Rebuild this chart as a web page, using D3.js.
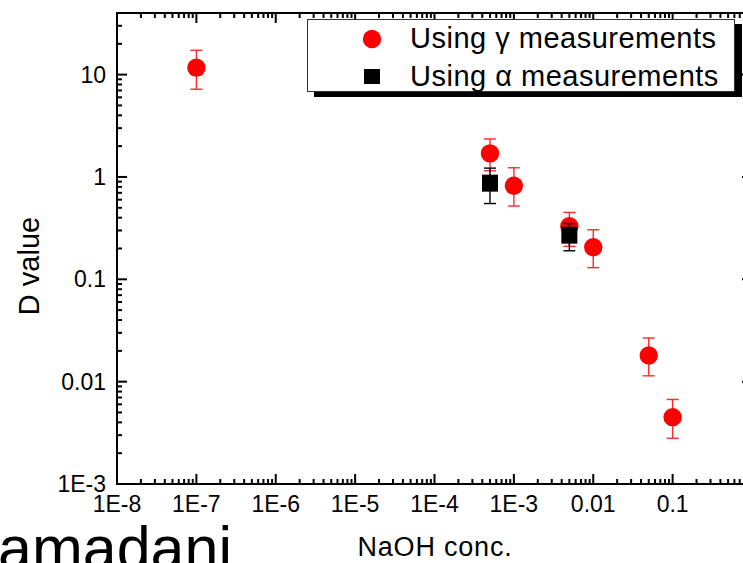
<!DOCTYPE html>
<html>
<head>
<style>
  body { margin: 0; background: #fff; }
  text { font-family: "Liberation Sans", Arial, sans-serif; }
</style>
</head>
<body>
<div id="viz"></div>
<script src="https://d3js.org/d3.v7.min.js"></script>
<script>
  // NaOH conc. vs D value
  const gammaX  = [1e-7, 5e-4, 1e-3, 5e-3, 0.01, 0.05, 0.1];
  const gammaY  = [11.7, 1.7, 0.82, 0.33, 0.206, 0.018, 0.0045];
  const gammaLo = [7.2, 1.15, 0.52, 0.21, 0.13, 0.0114, 0.0028];
  const gammaHi = [17.3, 2.35, 1.23, 0.45, 0.305, 0.0267, 0.0067];

  const alphaX  = [5e-4, 5e-3];
  const alphaY  = [0.87, 0.27];
  const alphaLo = [0.55, 0.19];
  const alphaHi = [1.22, 0.35];

  const xTicks = [1e-8, 1e-7, 1e-6, 1e-5, 1e-4, 1e-3, 0.01, 0.1];
  const xTickLabels = ["1E-8", "1E-7", "1E-6", "1E-5", "1E-4", "1E-3", "0.01", "0.1"];
  const yTicks = [1e-3, 0.01, 0.1, 1, 10];
  const yTickLabels = ["1E-3", "0.01", "0.1", "1", "10"];

  const width = 743, height = 563;
  const plotL = 117, plotR = 752, plotT = 13, plotB = 484;

  const svg = d3.select("#viz").append("svg")
      .attr("width", width)
      .attr("height", height);

  const x = d3.scaleLog().domain([1e-8, 1]).range([plotL, plotR]);
  const y = d3.scaleLog().domain([1e-3, 40]).range([plotB, plotT]);

  // minor ticks 2..9 per decade
  const minorX = [], minorY = [];
  for (let e = -8; e < 0; e++) for (let m = 2; m <= 9; m++) minorX.push(m * Math.pow(10, e));
  for (let e = -3; e < 2; e++) for (let m = 2; m <= 9; m++) {
    const v = m * Math.pow(10, e);
    if (v <= 40) minorY.push(v);
  }

  const axes = svg.append("g").attr("stroke", "#000").attr("stroke-width", 2);

  // ticks (all pointing inward)
  xTicks.forEach(v => {
    axes.append("line").attr("x1", x(v)).attr("x2", x(v)).attr("y1", plotB).attr("y2", plotB - 10);
    axes.append("line").attr("x1", x(v)).attr("x2", x(v)).attr("y1", plotT).attr("y2", plotT + 10);
  });
  minorX.forEach(v => {
    axes.append("line").attr("x1", x(v)).attr("x2", x(v)).attr("y1", plotB).attr("y2", plotB - 5);
    axes.append("line").attr("x1", x(v)).attr("x2", x(v)).attr("y1", plotT).attr("y2", plotT + 5);
  });
  yTicks.forEach(v => {
    axes.append("line").attr("x1", plotL).attr("x2", plotL + 10).attr("y1", y(v)).attr("y2", y(v));
    axes.append("line").attr("x1", plotR).attr("x2", plotR - 10).attr("y1", y(v)).attr("y2", y(v));
  });
  minorY.forEach(v => {
    axes.append("line").attr("x1", plotL).attr("x2", plotL + 5).attr("y1", y(v)).attr("y2", y(v));
    axes.append("line").attr("x1", plotR).attr("x2", plotR - 5).attr("y1", y(v)).attr("y2", y(v));
  });

  // frame
  axes.append("rect")
      .attr("x", plotL).attr("y", plotT)
      .attr("width", plotR - plotL).attr("height", plotB - plotT)
      .attr("fill", "none");

  // tick labels
  svg.append("g").selectAll("text")
      .data(xTicks)
    .enter().append("text")
      .attr("x", d => x(d))
      .attr("y", 512)
      .attr("text-anchor", "middle")
      .attr("font-size", 23)
      .text((d, i) => xTickLabels[i]);

  svg.append("g").selectAll("text")
      .data(yTicks)
    .enter().append("text")
      .attr("x", 106)
      .attr("y", d => y(d) + 8)
      .attr("text-anchor", "end")
      .attr("font-size", 23)
      .text((d, i) => yTickLabels[i]);

  // axis titles
  svg.append("text")
      .attr("x", 435)
      .attr("y", 556)
      .attr("text-anchor", "middle")
      .attr("font-size", 27)
      .attr("letter-spacing", 0.8)
      .text("NaOH conc.");

  svg.append("text")
      .attr("transform", "translate(39,266) rotate(-90)")
      .attr("text-anchor", "middle")
      .attr("font-size", 29)
      .text("D value");

  svg.append("text")
      .attr("x", -2)
      .attr("y", 569)
      .attr("font-size", 61)
      .text("amadani");

  // error bars
  function errorBars(xs, lo, hi, color) {
    const g = svg.append("g").attr("stroke", color).attr("stroke-width", 1.4);
    xs.forEach((v, i) => {
      const cx = x(v);
      g.append("line").attr("x1", cx).attr("x2", cx).attr("y1", y(lo[i])).attr("y2", y(hi[i]));
      g.append("line").attr("x1", cx - 6).attr("x2", cx + 6).attr("y1", y(lo[i])).attr("y2", y(lo[i]));
      g.append("line").attr("x1", cx - 6).attr("x2", cx + 6).attr("y1", y(hi[i])).attr("y2", y(hi[i]));
    });
  }

  errorBars(gammaX, gammaLo, gammaHi, "#ff2a2a");
  svg.append("g").selectAll("circle")
      .data(gammaX)
    .enter().append("circle")
      .attr("cx", d => x(d))
      .attr("cy", (d, i) => y(gammaY[i]))
      .attr("r", 9.2)
      .attr("fill", "#ff0000");

  errorBars(alphaX, alphaLo, alphaHi, "#000");
  svg.append("g").selectAll("rect")
      .data(alphaX)
    .enter().append("rect")
      .attr("x", d => x(d) - 8)
      .attr("y", (d, i) => y(alphaY[i]) - 8.5)
      .attr("width", 16)
      .attr("height", 17)
      .attr("fill", "#000");

  // legend
  const legend = svg.append("g");
  legend.append("rect")
      .attr("x", 314).attr("y", 24)
      .attr("width", 428).attr("height", 73)
      .attr("fill", "#000");
  legend.append("rect")
      .attr("x", 307.5).attr("y", 19.5)
      .attr("width", 427).attr("height", 72)
      .attr("fill", "#fff")
      .attr("stroke", "#333")
      .attr("stroke-width", 1);
  legend.append("circle")
      .attr("cx", 372).attr("cy", 39).attr("r", 9.2)
      .attr("fill", "#ff0000");
  legend.append("rect")
      .attr("x", 364).attr("y", 69).attr("width", 16).attr("height", 15)
      .attr("fill", "#000");
  legend.append("text")
      .attr("x", 410).attr("y", 48)
      .attr("font-size", 29)
      .attr("letter-spacing", 0.5)
      .text("Using \u03b3  measurements");
  legend.append("text")
      .attr("x", 410).attr("y", 86)
      .attr("font-size", 29)
      .attr("letter-spacing", 0.5)
      .text("Using \u03b1 measurements");
</script>
</body>
</html>
